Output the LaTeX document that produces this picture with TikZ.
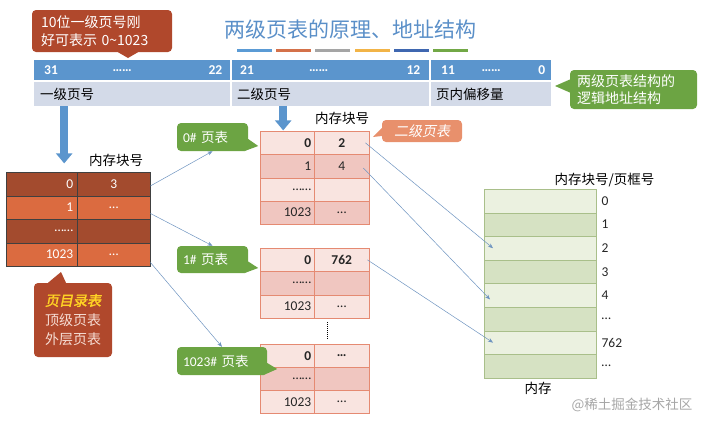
\documentclass[tikz,border=0pt]{standalone}
\usepackage{fontspec}
\setmainfont{Carlito}
\newfontfamily\cjk{Noto Sans CJK SC}
\newfontfamily\cjkit[FakeSlant=0.2]{Noto Sans CJK SC}
\newfontfamily\cjkbi[FakeSlant=0.2,FakeBold=2]{Noto Sans CJK SC}
\usetikzlibrary{positioning,arrows.meta}

\definecolor{titleblue}{HTML}{5A8FC8}
\definecolor{barblue}{HTML}{5B95CD}
\definecolor{barlight}{HTML}{D3DAE8}
\definecolor{barA}{HTML}{5B9BD5}
\definecolor{barB}{HTML}{D4714A}
\definecolor{barC}{HTML}{A5A5A5}
\definecolor{barD}{HTML}{F2B447}
\definecolor{barE}{HTML}{3F67B0}
\definecolor{barF}{HTML}{72A846}
\definecolor{rust}{HTML}{B0482C}
\definecolor{rustlight}{HTML}{F6DDD4}
\definecolor{notegold}{HTML}{FFD324}
\definecolor{dirdark}{HTML}{A34B2E}
\definecolor{dirlight}{HTML}{DB6B40}
\definecolor{pinkline}{HTML}{E58A72}
\definecolor{pinklight}{HTML}{F9E4E0}
\definecolor{pinkdark}{HTML}{F0C6C0}
\definecolor{salmon}{HTML}{E8906C}
\definecolor{notegreen}{HTML}{6CA443}
\definecolor{memlight}{HTML}{EBF1E0}
\definecolor{memdark}{HTML}{D6E2C3}
\definecolor{memline}{HTML}{A9BF8A}
\definecolor{linkblue}{HTML}{6E94C0}

\begin{document}
\begin{tikzpicture}[x=1pt,y=-1pt,
    every node/.style={inner sep=0pt,font=\fontsize{13.5}{16}\selectfont},
    cn/.style={font=\cjk\fontsize{13.5}{16}\selectfont},
    hdr/.style={fill=barblue,minimum height=20pt,anchor=north west},
    fieldname/.style={fill=barlight,minimum height=24pt,anchor=north west},
    bitnum/.style={text=white,font=\bfseries\fontsize{13.5}{16}\selectfont},
    dircell/.style={draw=black!75,minimum height=23.5pt,anchor=north west,text=white},
    pinkcell/.style={draw=pinkline,anchor=north west,text=black!85},
    memcell/.style={draw=memline,minimum width=112pt,minimum height=23.6pt,anchor=north west},
    bubble/.style={rounded corners=4pt,text=white},
    link/.style={draw=linkblue,line width=0.5pt,-{Stealth[length=5pt,width=4pt]}},
    bigarrow/.style={draw=barblue,line width=8pt,-{Triangle[width=16pt,length=10pt]}}]
    \useasboundingbox (0,0) rectangle (712,426);

    % title and colour bars
    \node[font=\cjk\fontsize{21}{24}\selectfont,text=titleblue] (title) at (350,30) {两级页表的原理、地址结构};
    \foreach \c [count=\i from 0] in {barA,barB,barC,barD,barE,barF}
        \fill[\c] (237+\i*39.2,48.5) rectangle ++(35,3);

    % logical address
    \node[hdr,minimum width=196pt] (fA) at (34,60) {};
    \node[hdr,minimum width=197pt] (fB) at (232,60) {};
    \node[hdr,minimum width=120pt] (fC) at (431,60) {};
    \node[fieldname,minimum width=196pt] (nA) at (34,82) {};
    \node[fieldname,minimum width=197pt] (nB) at (232,82) {};
    \node[fieldname,minimum width=120pt] (nC) at (431,82) {};
    \node[bitnum,right=10pt of fA.west] (b31) {31};
    \node[bitnum] at ([xshift=-10pt]fA.center) {……};
    \node[bitnum,left=8pt of fA.east] (b22) {22};
    \node[bitnum,right=8pt of fB.west] (b21) {21};
    \node[bitnum] at ([xshift=-12pt]fB.center) {……};
    \node[bitnum,left=9pt of fB.east] (b12) {12};
    \node[bitnum,right=10pt of fC.west] (b11) {11};
    \node[bitnum] at (fC.center) {……};
    \node[bitnum,left=6pt of fC.east] (b0) {0};
    \node[cn,right=6pt of nA.west] {一级页号};
    \node[cn,right=5pt of nB.west] {二级页号};
    \node[cn,right=5pt of nC.west] {页内偏移量};

    \node[bubble,fill=rust,minimum width=140pt,minimum height=42pt,text width=122pt,align=left,
        font=\cjk\fontsize{14}{18}\selectfont] (bitnote) at (102,31) {10位一级页号刚\\好可表示 0\textasciitilde1023};
    \fill[rust] ([xshift=16pt]bitnote.south) -- (128,58) -- ([xshift=36pt]bitnote.south) -- cycle;
    \node[bubble,fill=notegreen,minimum width=127pt,minimum height=39pt,text width=113pt,align=left,
        font=\cjk\fontsize{14}{17}\selectfont] (lognote) at (633.5,89.5) {两级页表结构的\\逻辑地址结构};
    \fill[notegreen] ([yshift=10pt]lognote.west) -- (555,86) -- ([yshift=-3pt]lognote.west) -- cycle;

    \draw[bigarrow] ([xshift=-68pt]nA.south) -- ++(0,57);
    \draw[bigarrow] ([xshift=-47.5pt]nB.south) -- ++(0,24);

    % page directory
    \node[cn] at (116,160) {内存块号};
    \foreach \l/\r/\c [count=\i] in {0/3/dirdark,1/…/dirlight,……//dirdark,1023/…/dirlight}{
        \node[dircell,fill=\c,minimum width=71pt,text width=63pt,align=right] (dl\i) at (6,148.5+\i*23.5) {\l};
        \node[dircell,fill=\c,minimum width=73pt] (dr\i) at (77,148.5+\i*23.5) {\r};
    }
    \node[bubble,fill=rust,minimum width=78pt,minimum height=74pt,align=center,text=rustlight,
        font=\cjk\fontsize{14}{19.5}\selectfont] (dirnote) at (73,320) {{\cjkbi\color{notegold}页目录表}\\顶级页表\\外层页表};
    \fill[rust] ([xshift=-25pt]dirnote.north) -- (61,272) -- ([xshift=-7pt]dirnote.north) -- cycle;

    % second level page tables
    \node[cn] at (342,118) {内存块号};
    \foreach \l/\r/\c [count=\i] in {\textbf{0}/\textbf{2}/pinklight,1/4/pinkdark,……//pinklight,1023/…/pinkdark}{
        \node[pinkcell,fill=\c,minimum width=54pt,minimum height=23.25pt,text width=48pt,align=right] (t0l\i) at (260,107.75+\i*23.25) {\l};
        \node[pinkcell,fill=\c,minimum width=55pt,minimum height=23.25pt] (t0r\i) at (314,107.75+\i*23.25) {\r};
    }
    \foreach \l/\r/\c [count=\i] in {\textbf{0}/\textbf{762}/pinklight,……//pinkdark,1023/…/pinklight}{
        \node[pinkcell,fill=\c,minimum width=54pt,minimum height=23.3pt,text width=48pt,align=right] (t1l\i) at (260,224.7+\i*23.3) {\l};
        \node[pinkcell,fill=\c,minimum width=55pt,minimum height=23.3pt] (t1r\i) at (314,224.7+\i*23.3) {\r};
    }
    \foreach \l/\r/\c [count=\i] in {\textbf{0}/\textbf{…}/pinklight,……//pinkdark,1023/…/pinklight}{
        \node[pinkcell,fill=\c,minimum width=54pt,minimum height=23pt,text width=48pt,align=right] (t2l\i) at (260,321+\i*23) {\l};
        \node[pinkcell,fill=\c,minimum width=55pt,minimum height=23pt] (t2r\i) at (314,321+\i*23) {\r};
    }
    \draw[densely dotted,line width=1pt] ([xshift=13pt,yshift=-4pt]t1r3.south west) -- ([xshift=13pt,yshift=4pt]t2r1.north west);

    \node[bubble,fill=salmon,minimum width=80pt,minimum height=22pt,font=\cjkit\fontsize{14}{16}\selectfont] (l2note) at (422,131) {二级页表};
    \fill[salmon] ([yshift=3pt]l2note.west) -- (373,137) -- ([yshift=-5pt]l2note.west) -- cycle;

    \node[bubble,fill=notegreen,minimum width=71pt,minimum height=28pt,text width=59pt,align=left] (g0) at (212.5,137) {0\# {\cjk 页表}};
    \fill[notegreen] ([yshift=-2pt]g0.east) -- ++(10,7) -- ([xshift=-4pt]g0.south east) -- cycle;
    \node[bubble,fill=notegreen,minimum width=71pt,minimum height=27pt,text width=59pt,align=left] (g1) at (212.5,259.5) {1\# {\cjk 页表}};
    \fill[notegreen] ([yshift=-2pt]g1.east) -- ++(10,6.5) -- ([xshift=-4pt]g1.south east) -- cycle;
    \node[bubble,fill=notegreen,minimum width=90pt,minimum height=28pt,text width=78pt,align=left] (g2) at (222,361) {1023\# {\cjk 页表}};
    \fill[notegreen] ([yshift=-2pt]g2.east) -- ++(10,6) -- ([xshift=-4pt]g2.south east) -- cycle;

    % memory
    \node[cn] at (604.5,180) {内存块号/页框号};
    \foreach \n/\c [count=\i] in {0/memlight,1/memdark,2/memlight,3/memdark,4/memlight,…/memdark,762/memlight,…/memdark}{
        \node[memcell,fill=\c] (m\i) at (484,165.4+\i*23.6) {};
        \node[right=5pt of m\i.east,text=black!85] (ml\i) {\n};
    }
    \node[cn] at (538,388) {内存};
    \node[cn,text=black!35] at (632,405) {@稀土掘金技术社区};

    % links
    \draw[link] ([yshift=-2pt]dr1.east) -- (g0.south);
    \draw[link] ([yshift=-6pt]dr2.east) -- (g1.north);
    \draw[link] ([yshift=-8pt]dr4.east) -- (g2.north);
    \draw[link] ([xshift=-4pt]t0r1.east) -- ([xshift=9pt]m3.west);
    \draw[link] ([xshift=-6pt,yshift=-2pt]t0r2.east) -- ([xshift=6pt,yshift=-4pt]m5.west);
    \draw[link] ([xshift=-2pt]t1r1.east) -- ([xshift=9pt]m7.west);
\end{tikzpicture}
\end{document}
